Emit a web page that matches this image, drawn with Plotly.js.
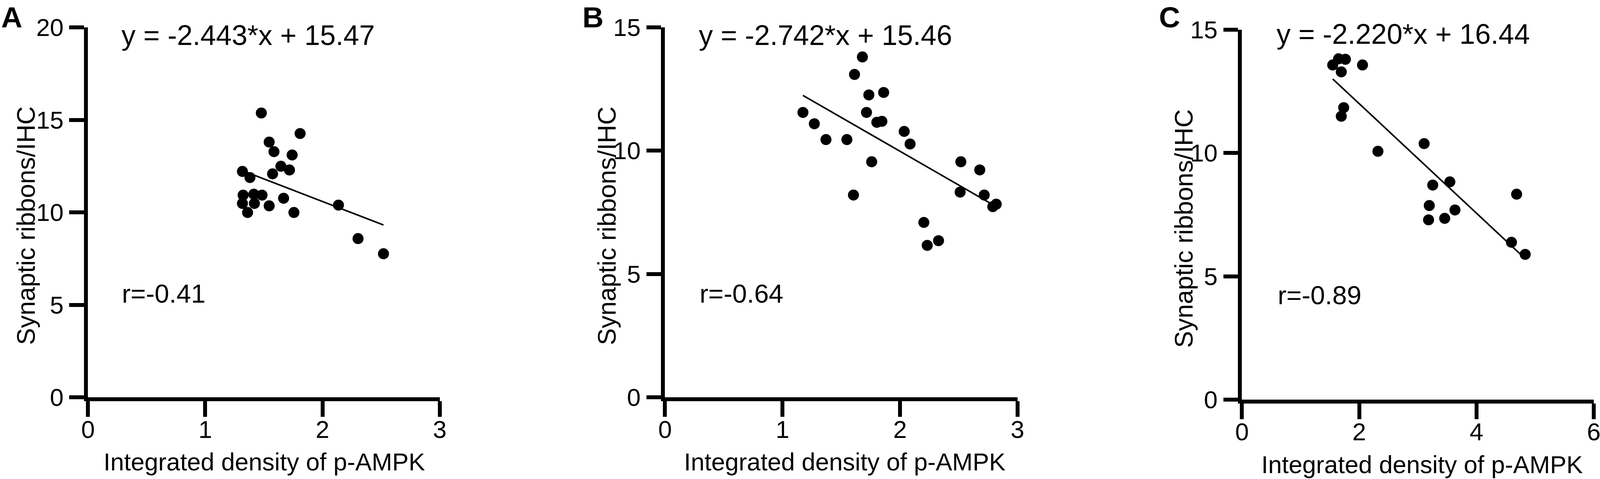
<!DOCTYPE html>
<html>
<head>
<meta charset="utf-8">
<script src="https://cdn.plot.ly/plotly-3.0.1.min.js"></script>
<style>html,body{margin:0;padding:0;background:#fff;overflow:hidden;}</style>
</head>
<body>
<div id="chart"></div>
<script>
// ---- Data ----
const panelLabels = ["A", "B", "C"];
const xTitle = "Integrated density of p-AMPK";
const yTitle = "Synaptic ribbons/IHC";

const xA = [1.478, 1.809, 1.545, 1.586, 1.741, 1.645, 1.718, 1.317, 1.574, 1.381, 1.323, 1.414, 1.484, 1.668, 1.317, 1.419, 1.545, 1.361, 1.756, 2.136, 2.303, 2.520];
const yA = [15.37, 14.26, 13.80, 13.28, 13.10, 12.49, 12.29, 12.21, 12.08, 11.88, 10.93, 10.98, 10.93, 10.76, 10.48, 10.48, 10.35, 9.99, 9.99, 10.39, 8.58, 7.76];

const xB = [1.680, 1.613, 1.735, 1.861, 1.174, 1.715, 1.271, 1.803, 1.846, 2.036, 1.370, 1.548, 2.086, 1.759, 2.518, 2.679, 1.604, 2.512, 2.717, 2.790, 2.819, 2.203, 2.232, 2.328];
const yB = [13.80, 13.09, 12.26, 12.36, 11.55, 11.55, 11.09, 11.15, 11.19, 10.78, 10.45, 10.45, 10.27, 9.55, 9.55, 9.22, 8.20, 8.32, 8.20, 7.73, 7.83, 7.09, 6.16, 6.35];

const xC = [1.548, 1.647, 1.764, 1.694, 2.056, 1.735, 1.694, 2.319, 3.107, 3.254, 3.546, 3.195, 3.183, 3.458, 3.633, 4.685, 4.597, 4.831];
const yC = [13.57, 13.82, 13.80, 13.29, 13.57, 11.84, 11.49, 10.07, 10.38, 8.70, 8.83, 7.87, 7.29, 7.35, 7.69, 8.33, 6.38, 5.89];

const slopes = [-2.443, -2.742, -2.220];
const intercepts = [15.47, 15.46, 16.44];
const eqTexts = ["y = -2.443*x + 15.47", "y = -2.742*x + 15.46", "y = -2.220*x + 16.44"];
const rTexts = ["r=-0.41", "r=-0.64", "r=-0.89"];

const xRanges = [[0, 3], [0, 3], [0, 6]];
const yRanges = [[0, 20], [0, 15], [0, 15]];
const xTicks = [[0, 1, 2, 3], [0, 1, 2, 3], [0, 2, 4, 6]];
const yTicks = [[0, 5, 10, 15, 20], [0, 5, 10, 15], [0, 5, 10, 15]];

// ---- Layout geometry: designed on a 4326x1225 grid, fitted to the viewport ----
const REF_W = 4326, REF_H = 1225;
const W = window.innerWidth || REF_W, H = window.innerHeight || REF_H;
const sx = W / REF_W, sy = H / REF_H;
const fs = Math.sqrt(sx * sy) / Math.sqrt(0.9468); // font scale (1 at the 4096-wide viewport)
const px = v => v / REF_W;
const py = v => 1 - v / REF_H;
const boxes = [
  {l: 238, r: 1189, t: 70, b: 1016},
  {l: 1798, r: 2751, t: 70, b: 1016},
  {l: 3358, r: 4309, t: 76, b: 1022}
];
const letterX = [32, 1603, 3162];
const eqPos = [[671, 90], [2232, 90], [3794, 87]];
const rPos = [[443, 750], [2005, 750], [3568, 755]];
const yTitlePos = [[70, 577], [1640, 577], [3201, 584]];
const xTitlePos = [[715, 1181], [2284, 1181], [3845, 1188]];

const FONT = "Arial, 'Liberation Sans', Helvetica, sans-serif";
const xs = [xA, xB, xC], ys = [yA, yB, yC];

const traces = [];
const layout = {
  width: W, height: H,
  margin: {l: 0, r: 0, t: 0, b: 0},
  paper_bgcolor: "#fff", plot_bgcolor: "#fff",
  showlegend: false,
  font: {family: FONT, color: "#000"},
  annotations: []
};

for (let i = 0; i < 3; i++) {
  const sfx = i === 0 ? "" : String(i + 1);
  const xa = "x" + sfx, ya = "y" + sfx;
  const xmin = Math.min(...xs[i]), xmax = Math.max(...xs[i]);
  traces.push({
    type: "scatter", mode: "lines", xaxis: xa, yaxis: ya,
    x: [xmin, xmax],
    y: [slopes[i] * xmin + intercepts[i], slopes[i] * xmax + intercepts[i]],
    line: {color: "#000", width: 4}, hoverinfo: "skip"
  });
  traces.push({
    type: "scatter", mode: "markers", xaxis: xa, yaxis: ya,
    x: xs[i], y: ys[i], cliponaxis: false,
    marker: {color: "#000", size: 29 * Math.sqrt(sx * sy), line: {width: 0}}
  });
  const b = boxes[i];
  const axCommon = {
    showgrid: false, zeroline: false, showline: true,
    linecolor: "#000", linewidth: 10,
    ticks: "outside", tickwidth: 10, tickcolor: "#000",
    tickfont: {family: FONT, size: 63 * fs, color: "#000"},
    tickmode: "array", fixedrange: true, ticklabeloverflow: "allow"
  };
  layout["xaxis" + sfx] = Object.assign({}, axCommon, {
    domain: [px(b.l), px(b.r)], range: xRanges[i],
    tickvals: xTicks[i], ticktext: xTicks[i].map(String),
    anchor: ya, ticklen: 40 * sy, ticklabelstandoff: -22
  });
  layout["yaxis" + sfx] = Object.assign({}, axCommon, {
    domain: [py(b.b), py(b.t)], range: yRanges[i],
    tickvals: yTicks[i], ticktext: yTicks[i].map(String),
    anchor: xa, ticklen: 40 * sx, ticklabelstandoff: 2
  });
  const ann = layout.annotations;
  ann.push({xref: "paper", yref: "paper", x: px(letterX[i]), y: 1,
    text: "<b>" + panelLabels[i] + "</b>", showarrow: false, xanchor: "center", yanchor: "top",
    font: {family: FONT, size: 75 * fs, color: "#000"}});
  ann.push({xref: "paper", yref: "paper", x: px(eqPos[i][0]), y: py(eqPos[i][1]),
    text: eqTexts[i], showarrow: false, xanchor: "center", yanchor: "middle",
    font: {family: FONT, size: 72 * fs, color: "#000"}});
  ann.push({xref: "paper", yref: "paper", x: px(rPos[i][0]), y: py(rPos[i][1]),
    text: rTexts[i], showarrow: false, xanchor: "center", yanchor: "middle",
    font: {family: FONT, size: 67 * fs, color: "#000"}});
  ann.push({xref: "paper", yref: "paper", x: px(yTitlePos[i][0]), y: py(yTitlePos[i][1]),
    text: yTitle, showarrow: false, xanchor: "center", yanchor: "middle", textangle: -90,
    font: {family: FONT, size: 65 * fs, color: "#000"}});
  ann.push({xref: "paper", yref: "paper", x: px(xTitlePos[i][0]), y: py(xTitlePos[i][1]),
    text: xTitle, showarrow: false, xanchor: "center", yanchor: "middle",
    font: {family: FONT, size: 63 * fs, color: "#000"}});
}

Plotly.newPlot("chart", traces, layout, {displayModeBar: false, staticPlot: true});
</script>
</body>
</html>
